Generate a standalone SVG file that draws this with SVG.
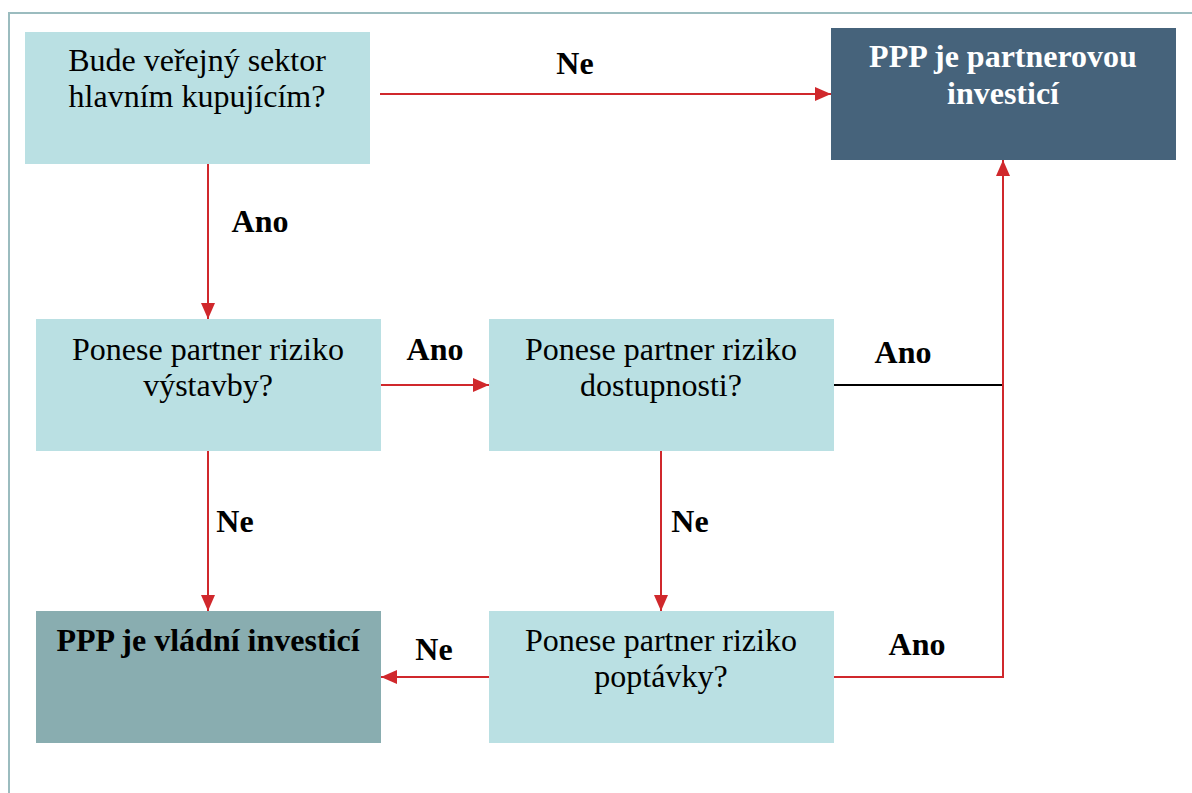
<svg xmlns="http://www.w3.org/2000/svg" width="1192" height="793" viewBox="0 0 1192 793" font-family="Liberation Serif, Times New Roman, serif">
<defs>
<style>
.q{fill:#BAE0E3}
.t{font-size:32px;fill:#000;text-anchor:middle}
.b{font-weight:bold}
.w{fill:#fff}
.r{stroke:#D0282C;stroke-width:2;fill:none}
.k{stroke:#000;stroke-width:2;fill:none}
</style>
<marker id="ah2" viewBox="0 0 16 14" refX="16" refY="7" markerWidth="16" markerHeight="14" markerUnits="userSpaceOnUse" orient="auto"><path d="M0,0L16,7L0,14z" fill="#D0282C"/></marker>
</defs>
<rect width="1192" height="793" fill="#fff"/>
<rect x="9" y="13" width="1200" height="800" fill="none" stroke="#9BBCBF" stroke-width="2"/>
<g id="connectors">
<path class="r" d="M208,159V319" marker-end="url(#ah2)"/>
<path class="r" d="M380,94H831" marker-end="url(#ah2)"/>
<path class="r" d="M381,385H489" marker-end="url(#ah2)"/>
<path class="k" d="M834,385H1003"/>
<path class="r" d="M834,677H1003V160" marker-end="url(#ah2)"/>
<path class="r" d="M208,451V611" marker-end="url(#ah2)"/>
<path class="r" d="M661,451V611" marker-end="url(#ah2)"/>
<path class="r" d="M489,677H381" marker-end="url(#ah2)"/>
<text class="t b" x="260" y="232">Ano</text>
<text class="t b" x="575" y="74">Ne</text>
<text class="t b" x="435" y="360">Ano</text>
<text class="t b" x="903" y="363">Ano</text>
<text class="t b" x="917" y="655">Ano</text>
<text class="t b" x="235" y="532">Ne</text>
<text class="t b" x="690" y="532">Ne</text>
<text class="t b" x="434" y="660">Ne</text>
</g>
<g id="n1">
<rect class="q" x="25" y="32" width="345" height="132"/>
<text class="t" x="197" y="71">Bude veřejný sektor</text>
<text class="t" x="197" y="107">hlavním kupujícím?</text>
</g>
<g id="n2">
<rect x="831" y="28" width="345" height="132" fill="#46637B"/>
<text class="t b w" x="1003" y="67">PPP je partnerovou</text>
<text class="t b w" x="1003" y="104">investicí</text>
</g>
<g id="n3">
<rect class="q" x="36" y="319" width="345" height="132"/>
<text class="t" x="208" y="360">Ponese partner riziko</text>
<text class="t" x="208" y="396">výstavby?</text>
</g>
<g id="n4">
<rect class="q" x="489" y="319" width="345" height="132"/>
<text class="t" x="661" y="360">Ponese partner riziko</text>
<text class="t" x="661" y="396">dostupnosti?</text>
</g>
<g id="n5">
<rect x="36" y="611" width="345" height="132" fill="#89ADB0"/>
<text class="t b" x="208" y="651">PPP je vládní investicí</text>
</g>
<g id="n6">
<rect class="q" x="489" y="611" width="345" height="132"/>
<text class="t" x="661" y="651">Ponese partner riziko</text>
<text class="t" x="661" y="687">poptávky?</text>
</g>
</svg>
